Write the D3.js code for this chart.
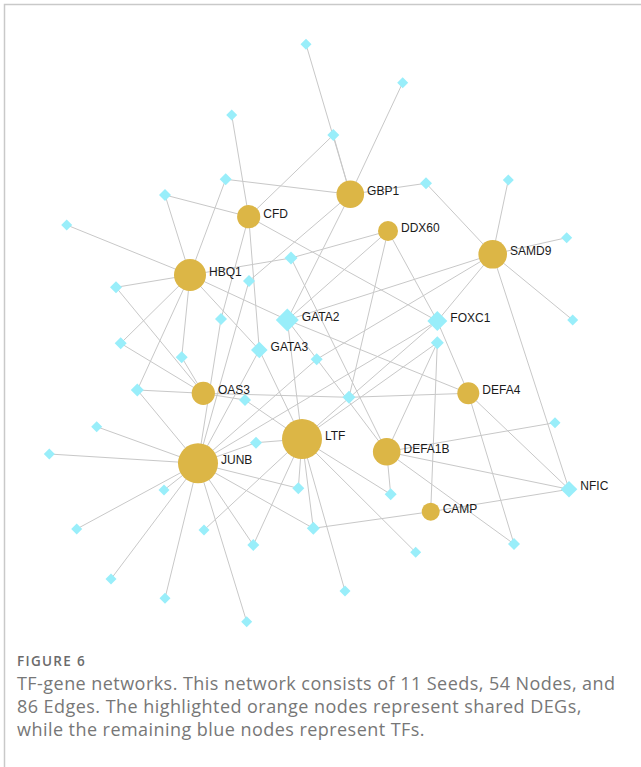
<!DOCTYPE html>
<html>
<head>
<meta charset="utf-8">
<script src="https://cdn.jsdelivr.net/npm/d3@7"></script>
<style>
  html, body { margin: 0; padding: 0; background: #fff; }
  svg { display: block; }
</style>
</head>
<body>
<svg id="chart" width="641" height="767"></svg>
<script>
// Seed genes (shared DEGs) and their layout coordinates
const seedIds = ["GBP1", "CFD", "DDX60", "SAMD9", "HBQ1", "OAS3", "DEFA4", "LTF", "JUNB", "DEFA1B", "CAMP"];
const seedLayoutX = [310.3, 208.7, 348, 452.7, 150, 163.3, 428.3, 262, 158, 346.7, 390.7];
const seedLayoutY = [154.3, 176.7, 191, 214.3, 235, 353.3, 353.3, 399, 423.3, 411.7, 471.7];

// Transcription factors; only the hub TFs carry a visible label
const tfIds = ["tf1", "tf2", "tf3", "tf4", "tf5", "tf6", "tf7", "tf8", "tf9", "tf10",
  "tf11", "tf12", "tf13", "tf14", "tf15", "GATA2", "FOXC1", "tf18", "tf19", "GATA3",
  "tf21", "tf22", "tf23", "tf24", "tf25", "tf26", "tf27", "tf28", "tf29", "tf30",
  "tf31", "tf32", "NFIC", "tf34", "tf35", "tf36", "tf37", "tf38", "tf39", "tf40",
  "tf41", "tf42", "tf43"];
const tfLabels = ["GATA2", "FOXC1", "GATA3", "NFIC"];
const tfLayoutX = [266, 362.7, 191.7, 293.3, 125, 185.7, 386, 468.3, 26.7, 251,
  209, 526.7, 76, 181, 532.7, 247.3, 397.3, 80.7, 141.7, 219.3,
  276.7, 397.3, 97.3, 205, 309, 56.7, 9.3, 216, 515, 124,
  258.3, 350.7, 529, 36.7, 164, 273.3, 213.3, 474, 375.7, 71,
  125, 305, 206.7];
const tfLayoutY = [4.3, 42.7, 75, 95, 155, 139.3, 143.3, 140, 185, 218,
  241, 197.7, 247.3, 279, 280, 280, 281, 303.3, 317.3, 310,
  319.3, 302.7, 350, 360, 357.3, 386.7, 414, 402.7, 382.7, 450,
  448.3, 454.3, 449.3, 489, 490, 488.3, 505, 504, 512.3, 539,
  558.3, 551, 581.7];

// TF -> gene regulatory edges (86)
const edges = [
  ["tf1", "GBP1"], ["tf2", "GBP1"], ["tf4", "GBP1"], ["tf6", "GBP1"], ["tf7", "GBP1"], ["tf11", "GBP1"], ["GATA2", "GBP1"],
  ["tf3", "CFD"], ["tf4", "CFD"], ["tf5", "CFD"], ["tf14", "CFD"], ["GATA3", "CFD"], ["FOXC1", "CFD"],
  ["tf10", "DDX60"], ["GATA2", "DDX60"], ["tf25", "DDX60"], ["FOXC1", "DDX60"],
  ["tf7", "SAMD9"], ["tf8", "SAMD9"], ["tf12", "SAMD9"], ["tf15", "SAMD9"], ["FOXC1", "SAMD9"], ["GATA2", "SAMD9"], ["tf21", "SAMD9"], ["NFIC", "SAMD9"],
  ["tf5", "HBQ1"], ["tf6", "HBQ1"], ["tf9", "HBQ1"], ["tf10", "HBQ1"], ["tf13", "HBQ1"], ["tf18", "HBQ1"], ["tf19", "HBQ1"], ["tf23", "HBQ1"], ["GATA2", "HBQ1"], ["GATA3", "HBQ1"],
  ["tf13", "OAS3"], ["tf18", "OAS3"], ["tf19", "OAS3"], ["tf23", "OAS3"], ["tf24", "OAS3"], ["tf25", "OAS3"],
  ["tf25", "DEFA4"], ["FOXC1", "DEFA4"], ["NFIC", "DEFA4"], ["tf38", "DEFA4"], ["GATA2", "DEFA4"],
  ["GATA2", "LTF"], ["FOXC1", "LTF"], ["tf22", "LTF"], ["tf24", "LTF"], ["tf28", "LTF"], ["tf31", "LTF"], ["tf32", "LTF"],
  ["tf35", "LTF"], ["tf36", "LTF"], ["tf37", "LTF"], ["tf39", "LTF"], ["tf42", "LTF"], ["GATA3", "LTF"],
  ["tf11", "JUNB"], ["tf14", "JUNB"], ["tf21", "JUNB"], ["GATA3", "JUNB"], ["FOXC1", "JUNB"], ["tf23", "JUNB"], ["tf26", "JUNB"],
  ["tf27", "JUNB"], ["tf28", "JUNB"], ["tf30", "JUNB"], ["tf31", "JUNB"], ["tf34", "JUNB"], ["tf36", "JUNB"], ["tf37", "JUNB"],
  ["tf40", "JUNB"], ["tf41", "JUNB"], ["tf43", "JUNB"],
  ["tf10", "DEFA1B"], ["tf22", "DEFA1B"], ["tf29", "DEFA1B"], ["tf32", "DEFA1B"], ["tf38", "DEFA1B"], ["NFIC", "DEFA1B"], ["GATA2", "DEFA1B"],
  ["tf22", "CAMP"], ["tf36", "CAMP"], ["NFIC", "CAMP"]
];

const captionTitle = "FIGURE 6";
const captionLines = [
  "TF-gene networks. This network consists of 11 Seeds, 54 Nodes, and",
  "86 Edges. The highlighted orange nodes represent shared DEGs,",
  "while the remaining blue nodes represent TFs."
];

// ---- build node table ----
const nodes = [];
seedIds.forEach((id, i) => nodes.push({ id, kind: "seed", lx: seedLayoutX[i], ly: seedLayoutY[i], label: id }));
tfIds.forEach((id, i) => nodes.push({ id, kind: "tf", lx: tfLayoutX[i], ly: tfLayoutY[i], label: tfLabels.includes(id) ? id : null }));
const byId = new Map(nodes.map(n => [n.id, n]));
nodes.forEach(n => n.degree = 0);
edges.forEach(([a, b]) => { byId.get(a).degree++; byId.get(b).degree++; });

const svg = d3.select("#chart");

// panel frame
svg.append("path")
  .attr("d", "M4.5,767 V4.5 H641")
  .attr("fill", "none")
  .attr("stroke", "#c9c9c9")
  .attr("stroke-width", 1.5);

// layout -> screen
const x = d3.scaleLinear().domain([0, 560]).range([40, 600]);
const y = d3.scaleLinear().domain([0, 590]).range([40, 630]);

// node size from degree
const seedRadius = d3.scaleLinear()
  .domain([3, 4, 5, 6, 7, 8, 10, 13])
  .range([9, 10, 11, 11.6, 13.8, 14.3, 16, 20])
  .clamp(true);
const tfHalf = d3.scaleLinear()
  .domain([1, 2, 3, 4, 6, 7])
  .range([5.5, 6, 6.5, 8.3, 10, 11.5])
  .clamp(true);

const g = svg.append("g");

g.append("g")
  .selectAll("line")
  .data(edges)
  .join("line")
  .attr("x1", d => x(byId.get(d[0]).lx))
  .attr("y1", d => y(byId.get(d[0]).ly))
  .attr("x2", d => x(byId.get(d[1]).lx))
  .attr("y2", d => y(byId.get(d[1]).ly))
  .attr("stroke", "#c8c8c8")
  .attr("stroke-width", 1);

function diamond(h) {
  const p = d3.path();
  p.moveTo(0, -h); p.lineTo(h, 0); p.lineTo(0, h); p.lineTo(-h, 0); p.closePath();
  return p.toString();
}

const tfNodes = nodes.filter(n => n.kind === "tf");
const seedNodes = nodes.filter(n => n.kind === "seed");

g.append("g")
  .selectAll("path")
  .data(tfNodes)
  .join("path")
  .attr("transform", d => `translate(${x(d.lx)},${y(d.ly)})`)
  .attr("d", d => diamond(tfHalf(d.degree)))
  .attr("fill", "#99eefa");

g.append("g")
  .selectAll("circle")
  .data(seedNodes)
  .join("circle")
  .attr("cx", d => x(d.lx))
  .attr("cy", d => y(d.ly))
  .attr("r", d => seedRadius(d.degree))
  .attr("fill", "#dcb646");

const labelled = nodes.filter(n => n.label);
g.append("g")
  .selectAll("text")
  .data(labelled)
  .join("text")
  .attr("x", d => x(d.lx) + (d.kind === "seed" ? seedRadius(d.degree) : tfHalf(d.degree)) + 3)
  .attr("y", d => y(d.ly) + 1)
  .attr("font-family", "Liberation Sans, Arial, sans-serif")
  .attr("font-size", 12)
  .attr("fill", "#1a1a1a")
  .text(d => d.label);

// caption
svg.append("text")
  .attr("x", 17)
  .attr("y", 666)
  .attr("font-family", "Open Sans, sans-serif")
  .attr("font-size", 13.5)
  .attr("font-weight", 600)
  .attr("letter-spacing", 1.3)
  .attr("fill", "#6b6b6b")
  .text(captionTitle);

svg.append("g")
  .selectAll("text")
  .data(captionLines)
  .join("text")
  .attr("x", 17)
  .attr("y", (d, i) => 690 + i * 23)
  .attr("font-family", "Open Sans, sans-serif")
  .attr("font-size", 18)
  .attr("letter-spacing", 0.45)
  .attr("fill", "#777")
  .text(d => d);
</script>
</body>
</html>
